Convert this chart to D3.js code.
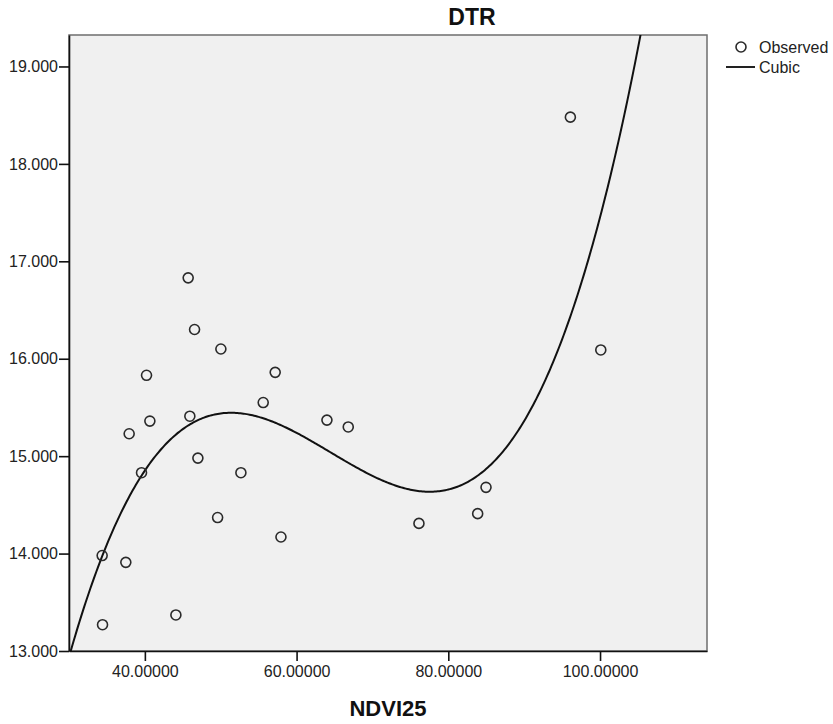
<!DOCTYPE html>
<html>
<head>
<meta charset="utf-8">
<script src="https://cdn.jsdelivr.net/npm/d3@7"></script>
<style>
  html, body { margin: 0; padding: 0; background: #fff; }
  svg { display: block; font-family: "Liberation Sans", Arial, sans-serif; }
</style>
</head>
<body>
<svg id="chart" width="833" height="724"></svg>
<script>
// Observed values: NDVI25 (x) against DTR (y)
const ndvi = [34.37, 34.42, 37.49, 37.93, 39.56, 40.22, 40.66, 44.09, 45.71, 45.93,
              46.55, 46.99, 50.02, 49.59, 52.66, 55.60, 57.18, 57.94, 64.00, 66.81,
              76.13, 83.87, 84.97, 96.09, 100.10];
const dtr  = [13.98, 13.27, 13.91, 15.23, 14.83, 15.83, 15.36, 13.37, 16.83, 15.41,
              16.30, 14.98, 16.10, 14.37, 14.83, 15.55, 15.86, 14.17, 15.37, 15.30,
              14.31, 14.41, 14.68, 18.48, 16.09];

const xTicks = [40, 60, 80, 100];
const yTicks = [13, 14, 15, 16, 17, 18, 19];
const xDomain = [30, 114.1];
const yDomain = [13, 19.323];

const chartTitle = "DTR";
const xTitle = "NDVI25";
const legendLabels = ["Observed", "Cubic"];

const margin = { left: 69, top: 35, right: 126, bottom: 73 };
const W = 833, H = 724;
const iw = W - margin.left - margin.right;
const ih = H - margin.top - margin.bottom;

const svg = d3.select("#chart");
const x = d3.scaleLinear().domain(xDomain).range([margin.left, margin.left + iw]);
const y = d3.scaleLinear().domain(yDomain).range([margin.top + ih, margin.top]);

// Least-squares cubic fit of DTR on NDVI25
function cubicFit(xs, ys) {
  const m = d3.mean(xs);
  const n = 4;
  const A = Array.from({ length: n }, () => new Array(n + 1).fill(0));
  xs.forEach((xv, i) => {
    const t = xv - m;
    const p = [1, t, t * t, t * t * t];
    for (let r = 0; r < n; r++) {
      for (let c = 0; c < n; c++) A[r][c] += p[r] * p[c];
      A[r][n] += p[r] * ys[i];
    }
  });
  for (let k = 0; k < n; k++) {
    let piv = k;
    for (let r = k + 1; r < n; r++) if (Math.abs(A[r][k]) > Math.abs(A[piv][k])) piv = r;
    [A[k], A[piv]] = [A[piv], A[k]];
    for (let r = 0; r < n; r++) {
      if (r === k) continue;
      const f = A[r][k] / A[k][k];
      for (let c = k; c <= n; c++) A[r][c] -= f * A[k][c];
    }
  }
  const coef = A.map((row, k) => row[n] / row[k]);
  return xv => { const t = xv - m; return coef[0] + coef[1] * t + coef[2] * t * t + coef[3] * t * t * t; };
}
const fit = cubicFit(ndvi, dtr);

// plot background
svg.append("rect")
  .attr("x", margin.left).attr("y", margin.top)
  .attr("width", iw).attr("height", ih)
  .attr("fill", "#f0f0f0")
  .attr("stroke", "#6e6e6e").attr("stroke-width", 1.5);

svg.append("clipPath").attr("id", "plotclip")
  .append("rect")
  .attr("x", margin.left).attr("y", margin.top)
  .attr("width", iw).attr("height", ih);

// fitted curve
const curvePts = d3.range(xDomain[0], xDomain[1] + 0.001, 0.2).map(v => [v, fit(v)]);
svg.append("path")
  .datum(curvePts)
  .attr("clip-path", "url(#plotclip)")
  .attr("fill", "none")
  .attr("stroke", "#111")
  .attr("stroke-width", 2)
  .attr("d", d3.line().x(d => x(d[0])).y(d => y(d[1])));

// observed points
svg.append("g").selectAll("circle")
  .data(ndvi.map((v, i) => [v, dtr[i]]))
  .join("circle")
  .attr("cx", d => x(d[0]))
  .attr("cy", d => y(d[1]))
  .attr("r", 5)
  .attr("fill", "none")
  .attr("stroke", "#2a2a2a")
  .attr("stroke-width", 1.6);

// axes
const yAxis = svg.append("g")
  .attr("transform", `translate(${margin.left},0)`)
  .call(d3.axisLeft(y).tickValues(yTicks).tickFormat(d3.format(".3f")).tickSize(10).tickPadding(1).tickSizeOuter(0));
const xAxis = svg.append("g")
  .attr("transform", `translate(0,${margin.top + ih})`)
  .call(d3.axisBottom(x).tickValues(xTicks).tickFormat(d3.format(".5f")).tickSize(10).tickPadding(5).tickSizeOuter(0));

[yAxis, xAxis].forEach(g => {
  g.select(".domain").attr("stroke", "#111").attr("stroke-width", 1.6);
  g.selectAll(".tick line").attr("stroke", "#111").attr("stroke-width", 1.6);
  g.selectAll(".tick text")
    .attr("fill", "#222")
    .style("font-size", "16px")
    .style("font-family", "'Liberation Sans', Arial, sans-serif");
});

// titles
svg.append("text")
  .attr("x", 472).attr("y", 25)
  .attr("text-anchor", "middle")
  .style("font-size", "23px").style("font-weight", "bold")
  .attr("fill", "#111")
  .text(chartTitle);

svg.append("text")
  .attr("x", margin.left + iw / 2).attr("y", 716)
  .attr("text-anchor", "middle")
  .style("font-size", "22px").style("font-weight", "bold")
  .attr("fill", "#111")
  .text(xTitle);

// legend
const lg = svg.append("g");
lg.append("circle").attr("cx", 741).attr("cy", 47).attr("r", 5)
  .attr("fill", "none").attr("stroke", "#2a2a2a").attr("stroke-width", 1.6);
lg.append("text").attr("x", 759).attr("y", 53)
  .style("font-size", "16px").attr("fill", "#222").text(legendLabels[0]);
lg.append("line").attr("x1", 726).attr("x2", 755).attr("y1", 67).attr("y2", 67)
  .attr("stroke", "#222").attr("stroke-width", 2);
lg.append("text").attr("x", 759).attr("y", 73)
  .style("font-size", "16px").attr("fill", "#222").text(legendLabels[1]);
</script>
</body>
</html>
